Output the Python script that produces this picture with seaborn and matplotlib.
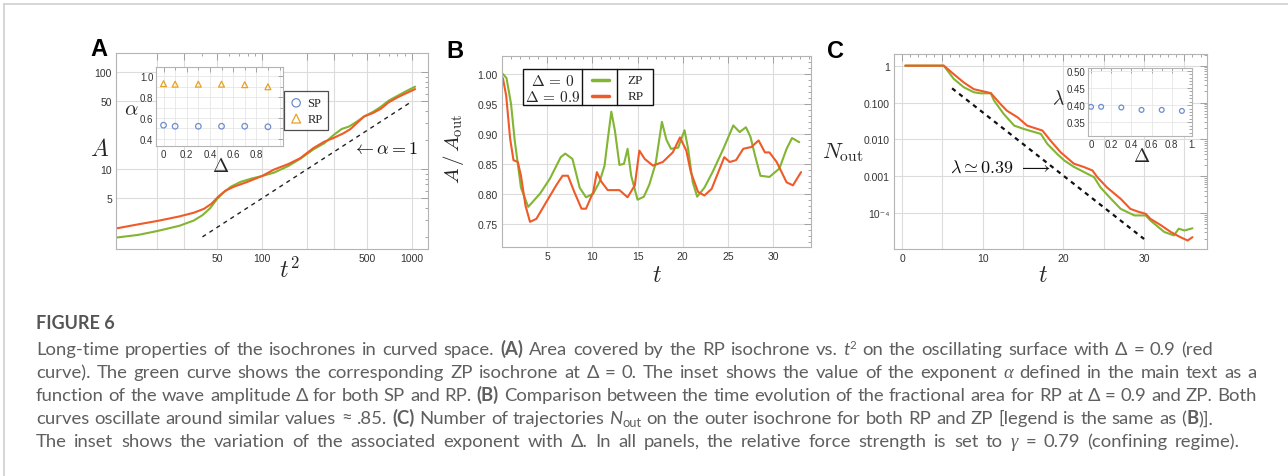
import re
import numpy as np
import pandas as pd
import matplotlib
matplotlib.use("Agg")
import matplotlib.pyplot as plt
import seaborn as sns
from matplotlib import ticker
from matplotlib.lines import Line2D
from matplotlib.patches import Rectangle

# --- style ---
sns.set_theme(style="white")
plt.rcParams['font.family'] = ['Liberation Sans', 'DejaVu Sans']
plt.rcParams['mathtext.fontset'] = 'cm'

GREEN = '#82b532'
RED = '#f05a28'
BLUE = '#6d8fcf'
ORANGE = '#e6a224'
FRAME = '#b4b4b4'
GRIDC = '#dcdcdc'

# --- data: panel A (area vs t^2) ---
a_t2_zp = [10.7, 15, 20, 28, 35, 40, 45, 50, 55, 62, 72, 85, 100, 120, 150, 180,
           220, 260, 300, 340, 380, 430, 480, 550, 620, 700, 800, 900, 1050]
a_area_zp = [1.97, 2.1, 2.3, 2.6, 2.95, 3.35, 3.95, 4.9, 5.7, 6.6, 7.4, 8.0, 8.5, 9.2, 10.8, 12.8,
             16.0, 18.5, 22.5, 26.0, 27.5, 31.0, 35.0, 39.0, 44.0, 51.0, 57.0, 63.0, 71.0]
a_t2_rp = [10.7, 15, 20, 28, 35, 41, 46, 51, 57, 65, 80, 100, 120, 150, 180, 220,
           260, 300, 350, 390, 430, 480, 550, 620, 700, 800, 900, 1050]
a_area_rp = [2.45, 2.7, 2.92, 3.25, 3.55, 3.9, 4.4, 5.2, 6.0, 6.6, 7.4, 8.5, 9.9, 11.3, 13.0, 16.5,
             19.2, 21.0, 23.5, 26.0, 30.0, 35.0, 38.0, 42.0, 49.0, 55.0, 60.0, 67.0]
a_guide_x = [40, 1000]
a_guide_y = [2.0, 50.0]

# inset A: exponent alpha vs Delta
delta = [0.0, 0.1, 0.3, 0.5, 0.7, 0.9]
alpha_sp = [0.53, 0.52, 0.52, 0.52, 0.52, 0.515]
alpha_rp = [0.93, 0.925, 0.925, 0.925, 0.92, 0.90]

# --- data: panel B (A / A_out vs t) ---
b_t_zp = [0.1, 0.5, 1.0, 1.4, 2.1, 2.9, 4.2, 5.3, 6.5, 7.0, 7.8, 8.6, 9.3, 10.1, 10.8, 11.35, 11.7,
          12.1, 12.5, 13.0, 13.5, 13.9, 14.3, 15.0, 15.7, 16.3, 17.0, 17.7, 18.2, 18.7, 19.5, 20.2,
          20.6, 21.1, 21.6, 22.4, 23.3, 24.5, 25.6, 26.3, 27.0, 27.5, 28.0, 28.6, 29.6, 30.7,
          31.5, 32.1, 32.9]
b_ratio_zp = [1.0, 0.993, 0.95, 0.89, 0.81, 0.778, 0.80, 0.825, 0.861, 0.867, 0.858, 0.81, 0.794,
              0.80, 0.82, 0.847, 0.89, 0.937, 0.905, 0.848, 0.85, 0.875, 0.83, 0.79, 0.795, 0.815,
              0.85, 0.92, 0.89, 0.875, 0.877, 0.906, 0.875, 0.82, 0.795, 0.81, 0.836, 0.875, 0.914,
              0.903, 0.911, 0.895, 0.864, 0.83, 0.828, 0.842, 0.875, 0.893, 0.886]
b_t_rp = [0.1, 0.46, 0.9, 1.27, 1.75, 2.1, 2.6, 3.1, 3.8, 4.9, 6.0, 6.7, 7.3, 8.0, 8.8, 9.3, 10.1,
          10.5, 11.0, 11.7, 13.0, 13.9, 14.7, 15.2, 15.8, 16.7, 17.8, 18.9, 19.7, 20.4, 20.9,
          21.7, 22.4, 23.2, 24.1, 24.6, 25.2, 25.9, 26.7, 27.6, 28.4, 29.1, 29.6, 30.4, 31.5,
          32.2, 33.1]
b_ratio_rp = [0.993, 0.964, 0.892, 0.856, 0.853, 0.83, 0.78, 0.753, 0.758, 0.786, 0.814, 0.83,
              0.83, 0.803, 0.775, 0.775, 0.803, 0.836, 0.82, 0.806, 0.806, 0.794, 0.814, 0.872,
              0.858, 0.847, 0.853, 0.869, 0.894, 0.872, 0.836, 0.803, 0.797, 0.808, 0.842, 0.861,
              0.853, 0.856, 0.875, 0.878, 0.889, 0.869, 0.869, 0.853, 0.819, 0.814, 0.836]

# --- data: panel C (N_out vs t) ---
c_t_zp = [0.4, 5.17, 6.4, 7.65, 8.9, 9.7, 11.0, 11.4, 12.6, 13.9, 15.1, 17.2, 18.0, 19.2, 20.1,
          21.3, 23.4, 23.8, 24.6, 25.9, 27.1, 28.8, 30.2, 30.8, 32.5, 33.7, 34.3, 35.0, 36.0]
c_n_zp = [1, 1, 0.44, 0.26, 0.19, 0.178, 0.178, 0.113, 0.049, 0.0237, 0.0192, 0.0141, 0.0076,
          0.0041, 0.0027, 0.0018, 0.00105, 0.00095, 0.0005, 0.000245, 0.000131, 8.7e-5, 8.7e-5,
          6.3e-5, 3.1e-5, 2.5e-5, 3.8e-5, 3.4e-5, 3.9e-5]
c_t_rp = [0.4, 5.17, 6.4, 7.65, 8.9, 10.55, 11.0, 12.2, 13.0, 14.3, 15.5, 17.4, 18.4, 19.65,
          21.3, 22.5, 23.6, 24.2, 25.4, 27.1, 28.3, 29.2, 30.2, 30.8, 32.1, 33.3, 34.5, 35.4, 36.0]
c_n_rp = [1, 1, 0.59, 0.35, 0.23, 0.19, 0.18, 0.091, 0.06, 0.04, 0.0237, 0.0174, 0.0093, 0.0045,
          0.0022, 0.0018, 0.00144, 0.00095, 0.0005, 0.000245, 0.000131, 0.000111, 9.6e-5, 7e-5,
          4.7e-5, 3.1e-5, 2.24e-5, 1.82e-5, 2.24e-5]
c_guide_t = [6.2, 30.0]
c_guide_n = [0.243, 2.0e-5]

# inset C: exponent lambda vs Delta
lambda_sp = [0.395, 0.395, 0.393, 0.386, 0.386, 0.383]

# --- figure ---
W, H = 1288, 477
fig = plt.figure(figsize=(W / 100, H / 100), dpi=100)
fig.patch.set_facecolor('white')


def rect(x0, y0, x1, y1):
    # pixel box (top-left origin) -> figure fraction
    return [x0 / W, 1 - y1 / H, (x1 - x0) / W, (y1 - y0) / H]


def ftext(x, y, s, **kw):
    kw.setdefault('ha', 'center')
    kw.setdefault('va', 'center')
    return fig.text(x / W, 1 - y / H, s, **kw)


def style_axes(ax, fs=7.5, major=5, minor=2.5):
    ax.set_facecolor('white')
    for sp in ax.spines.values():
        sp.set_color(FRAME)
        sp.set_linewidth(0.8)
        sp.set_visible(True)
    ax.tick_params(which='both', direction='in', top=True, right=True,
                   color='#999999', width=0.6, labelsize=fs, labelcolor='#333333', pad=3)
    ax.tick_params(which='major', length=major)
    ax.tick_params(which='minor', length=minor)
    ax.set_xlabel('')
    ax.set_ylabel('')


# ---------- panel A ----------
ax_a = fig.add_axes(rect(116, 54, 428, 250))
sns.lineplot(x=a_t2_zp, y=a_area_zp, ax=ax_a, color=GREEN, lw=1.5, sort=False, estimator=None)
sns.lineplot(x=a_t2_rp, y=a_area_rp, ax=ax_a, color=RED, lw=1.5, sort=False, estimator=None)
ax_a.plot(a_guide_x, a_guide_y, color='#222222', lw=1.0, ls=(0, (3, 3)))
ax_a.set_xscale('log')
ax_a.set_yscale('log')
ax_a.set_xlim(10.6, 1280)
ax_a.set_ylim(1.5, 158)
style_axes(ax_a)
ax_a.xaxis.set_major_locator(ticker.FixedLocator([20, 30, 50, 100, 200, 300, 500, 1000]))
ax_a.xaxis.set_major_formatter(ticker.FixedFormatter(['', '', '50', '100', '', '', '500', '1000']))
ax_a.xaxis.set_minor_locator(ticker.LogLocator(base=10, subs=np.arange(2, 10)))
ax_a.xaxis.set_minor_formatter(ticker.NullFormatter())
ax_a.yaxis.set_major_locator(ticker.FixedLocator([5, 10, 50, 100]))
ax_a.yaxis.set_major_formatter(ticker.FixedFormatter(['5', '10', '50', '100']))
ax_a.yaxis.set_minor_locator(ticker.LogLocator(base=10, subs=np.arange(2, 10)))
ax_a.yaxis.set_minor_formatter(ticker.NullFormatter())
ax_a.grid(True, which='major', color=GRIDC, lw=0.8)
ax_a.text(400, 16.5, r'$\leftarrow\alpha = 1$', fontsize=13, ha='left', va='center', color='#111111')
ftext(100, 150, r'$A$', fontsize=17)
ftext(289, 270, r'$t^2$', fontsize=17)
ftext(99, 50, 'A', fontsize=17, fontweight='bold', color='black')

# inset A
ax_ia = fig.add_axes(rect(156, 68, 283, 147))
sns.scatterplot(x=delta, y=alpha_sp, ax=ax_ia, marker='o', s=16, facecolors='none',
                edgecolor=BLUE, linewidth=0.9, label='SP')
sns.scatterplot(x=delta, y=alpha_rp, ax=ax_ia, marker='^', s=18, facecolors='none',
                edgecolor=ORANGE, linewidth=0.9, label='RP')
ax_ia.set_xlim(-0.065, 1.03)
ax_ia.set_ylim(0.33, 1.09)
style_axes(ax_ia, fs=7, major=3.5, minor=2)
ax_ia.xaxis.set_major_locator(ticker.FixedLocator([0, 0.2, 0.4, 0.6, 0.8]))
ax_ia.xaxis.set_major_formatter(ticker.FixedFormatter(['0', '0.2', '0.4', '0.6', '0.8']))
ax_ia.xaxis.set_minor_locator(ticker.MultipleLocator(0.1))
ax_ia.yaxis.set_major_locator(ticker.FixedLocator([0.4, 0.6, 0.8, 1.0]))
ax_ia.yaxis.set_major_formatter(ticker.FixedFormatter(['0.4', '0.6', '0.8', '1.0']))
ax_ia.yaxis.set_minor_locator(ticker.MultipleLocator(0.1))
ax_ia.tick_params(pad=2)
ax_ia.grid(True, which='both', color='#e6e6e6', lw=0.6)
leg = ax_ia.legend(loc='upper left', bbox_to_anchor=(1.01, 0.69), borderaxespad=0,
                   frameon=True, fancybox=False, edgecolor='#222222', handletextpad=0.4,
                   borderpad=0.45, labelspacing=0.3, handlelength=1.0, markerscale=1.5,
                   prop={'family': ['Liberation Serif', 'DejaVu Serif'], 'size': 9})
leg.get_frame().set_linewidth(0.9)
ftext(131, 110, r'$\alpha$', fontsize=15)
ftext(221, 167, r'$\Delta$', fontsize=14)

# ---------- panel B ----------
ax_b = fig.add_axes(rect(502, 57, 811, 248))
sns.lineplot(x=b_t_zp, y=b_ratio_zp, ax=ax_b, color=GREEN, lw=1.5, sort=False, estimator=None)
sns.lineplot(x=b_t_rp, y=b_ratio_rp, ax=ax_b, color=RED, lw=1.5, sort=False, estimator=None)
ax_b.set_xlim(0, 34.2)
ax_b.set_ylim(0.711, 1.03)
style_axes(ax_b)
ax_b.xaxis.set_major_locator(ticker.FixedLocator([5, 10, 15, 20, 25, 30]))
ax_b.xaxis.set_major_formatter(ticker.FixedFormatter(['5', '10', '15', '20', '25', '30']))
ax_b.xaxis.set_minor_locator(ticker.MultipleLocator(1))
ax_b.yaxis.set_major_locator(ticker.FixedLocator([0.75, 0.80, 0.85, 0.90, 0.95, 1.00]))
ax_b.yaxis.set_major_formatter(ticker.FormatStrFormatter('%.2f'))
ax_b.yaxis.set_minor_locator(ticker.MultipleLocator(0.01))
ax_b.grid(True, which='major', color=GRIDC, lw=0.8)

# table-like legend of panel B
lx0, lx1, ly0, ly1 = 0.068, 0.49, 0.745, 0.9335
ax_b.add_patch(Rectangle((lx0, ly0), lx1 - lx0, ly1 - ly0, transform=ax_b.transAxes,
                         facecolor='white', edgecolor='#111111', lw=1.0, zorder=5))
for xd in (0.2587, 0.3718):
    ax_b.plot([xd, xd], [ly0, ly1], transform=ax_b.transAxes, color='#111111', lw=1.0, zorder=6)
for yy, dlab, col, name in ((0.872, r'$\Delta\,=\,0$', GREEN, 'ZP'),
                            (0.790, r'$\Delta\,=\,0.9$', RED, 'RP')):
    ax_b.text(0.1635, yy, dlab, transform=ax_b.transAxes, ha='center', va='center',
              fontsize=11, zorder=7)
    ax_b.plot([0.2913, 0.345], [yy, yy], transform=ax_b.transAxes, color=col, lw=2.5, zorder=7)
    ax_b.text(0.431, yy, name, transform=ax_b.transAxes, ha='center', va='center',
              fontsize=9.5, family=['Liberation Serif', 'DejaVu Serif'], zorder=7)
ftext(453, 149, r'$A\,/\,A_{\rm out}$', fontsize=15, rotation=90)
ftext(657, 276, r'$t$', fontsize=17)
ftext(455, 51, 'B', fontsize=17, fontweight='bold', color='black')

# ---------- panel C ----------
ax_c = fig.add_axes(rect(894, 55, 1207, 250))
sns.lineplot(x=c_t_zp, y=c_n_zp, ax=ax_c, color=GREEN, lw=1.5, sort=False, estimator=None)
sns.lineplot(x=c_t_rp, y=c_n_rp, ax=ax_c, color=RED, lw=1.5, sort=False, estimator=None)
ax_c.plot(c_guide_t, c_guide_n, color='#111111', lw=1.6, ls=(0, (2, 2)))
ax_c.set_yscale('log')
ax_c.set_xlim(-1, 37.8)
ax_c.set_ylim(1.07e-5, 2.07)
style_axes(ax_c)
ax_c.xaxis.set_major_locator(ticker.MultipleLocator(5))
ax_c.xaxis.set_major_formatter(ticker.FuncFormatter(lambda v, p: f'{v:.0f}' if round(v) % 10 == 0 else ''))
ax_c.xaxis.set_minor_locator(ticker.MultipleLocator(1))
ax_c.yaxis.set_major_locator(ticker.FixedLocator([1e-4, 1e-3, 1e-2, 1e-1, 1]))
ax_c.yaxis.set_major_formatter(ticker.FixedFormatter(['10\u207b\u2074', '0.001', '0.010', '0.100', '1']))
ax_c.yaxis.set_minor_locator(ticker.LogLocator(base=10, subs=np.arange(2, 10), numticks=20))
ax_c.yaxis.set_minor_formatter(ticker.NullFormatter())
ax_c.grid(True, which='major', color=GRIDC, lw=0.8)
ax_c.text(6.0, 0.0018, r'$\lambda \simeq 0.39\ \longrightarrow$', fontsize=13, ha='left',
          va='center', color='#111111')
ftext(843, 153, r'$N_{\rm out}$', fontsize=16)
ftext(1043, 276, r'$t$', fontsize=17)
ftext(835, 51, 'C', fontsize=17, fontweight='bold', color='black')

# inset C
ax_ic = fig.add_axes(rect(1088, 69, 1192, 137))
sns.scatterplot(x=delta, y=lambda_sp, ax=ax_ic, marker='o', s=12, facecolors='none',
                edgecolor=BLUE, linewidth=0.9, legend=False)
ax_ic.set_xlim(-0.03, 1.0)
ax_ic.set_ylim(0.31, 0.508)
style_axes(ax_ic, fs=7, major=3.5, minor=2)
ax_ic.xaxis.set_major_locator(ticker.FixedLocator([0, 0.2, 0.4, 0.6, 0.8, 1.0]))
ax_ic.xaxis.set_major_formatter(ticker.FixedFormatter(['0', '0.2', '0.4', '0.6', '0.8', '1.']))
ax_ic.xaxis.set_minor_locator(ticker.MultipleLocator(0.1))
ax_ic.yaxis.set_major_locator(ticker.FixedLocator([0.35, 0.40, 0.45, 0.50]))
ax_ic.yaxis.set_major_formatter(ticker.FormatStrFormatter('%.2f'))
ax_ic.yaxis.set_minor_locator(ticker.MultipleLocator(0.01))
ax_ic.tick_params(pad=2)
ax_ic.grid(True, which='major', color='#e6e6e6', lw=0.6)
ftext(1058, 99, r'$\lambda$', fontsize=14)
ftext(1142, 157, r'$\Delta$', fontsize=14)

# ---------- page frame ----------
fig.add_artist(Line2D([4 / W, 1], [1 - 5 / H, 1 - 5 / H], color='#cfcfcf', lw=1.2))
fig.add_artist(Line2D([4 / W, 4 / W], [0, 1 - 5 / H], color='#cfcfcf', lw=1.2))

# ---------- caption ----------
CAP_FONT = ['Lato', 'DejaVu Sans']
CAP_SERIF = ['Liberation Serif', 'DejaVu Serif']
CAP_COLOR = '#5f5f5f'
CAP_SIZE = 13.3

ftext(36, 329, 'FIGURE 6', fontsize=13, fontweight='bold', color='#555555',
      family=CAP_FONT, ha='left', va='baseline')

caption_lines = [
    "Long-time properties of the isochrones in curved space. **(A)** Area covered by the RP "
    "isochrone vs. /t/^2^ on the oscillating surface with Δ = 0.9 (red",
    "curve). The green curve shows the corresponding ZP isochrone at Δ = 0. The inset shows "
    "the value of the exponent _α_ defined in the main text as a",
    "function of the wave amplitude Δ for both SP and RP. **(B)** Comparison between the time "
    "evolution of the fractional area for RP at Δ = 0.9 and ZP. Both",
    "curves oscillate around similar values ≈ .85. **(C)** Number of trajectories /N/~out~ on the "
    "outer isochrone for both RP and ZP [legend is the same as (**B**)].",
    "The inset shows the variation of the associated exponent with Δ. In all panels, the "
    "relative force strength is set to _γ_ = 0.79 (confining regime).",
]
line_ends = [1213, 1257, 1257, 1213, 1240]
baselines = [355, 378, 401, 424, 447]
cap_x0 = 36

tok = re.compile(r'\*\*(.+?)\*\*|_(.+?)_|\^(.+?)\^|~(.+?)~|/(.+?)/|([^*_^~/]+)')
run_styles = [
    dict(weight='bold'),
    dict(family=CAP_SERIF, style='italic'),
    dict(size=0.62, dy=6),
    dict(size=0.7, dy=-3),
    dict(style='italic'),
    dict(),
]

renderer = fig.canvas.get_renderer()
for line, x_end, base in zip(caption_lines, line_ends, baselines):
    words = []
    for word in line.split(' '):
        runs = []
        wsum = 0.0
        for m in tok.finditer(word):
            kind = next(i for i, g in enumerate(m.groups()) if g is not None)
            st = run_styles[kind]
            t = fig.text(0, 0, m.group(kind + 1), fontsize=CAP_SIZE * st.get('size', 1.0),
                         fontweight=st.get('weight', 'normal'), fontstyle=st.get('style', 'normal'),
                         family=st.get('family', CAP_FONT), color=CAP_COLOR,
                         ha='left', va='baseline')
            w = t.get_window_extent(renderer=renderer).width
            runs.append((t, wsum, st.get('dy', 0)))
            wsum += w
        words.append((runs, wsum))
    total = sum(w for _, w in words)
    gap = max((x_end - cap_x0 - total) / max(len(words) - 1, 1), 2.5)
    x = cap_x0
    for runs, wsum in words:
        for t, off, dy in runs:
            t.set_position(((x + off) / W, 1 - (base - dy) / H))
        x += wsum + gap

fig.savefig('out.png', dpi=100, facecolor='white')
